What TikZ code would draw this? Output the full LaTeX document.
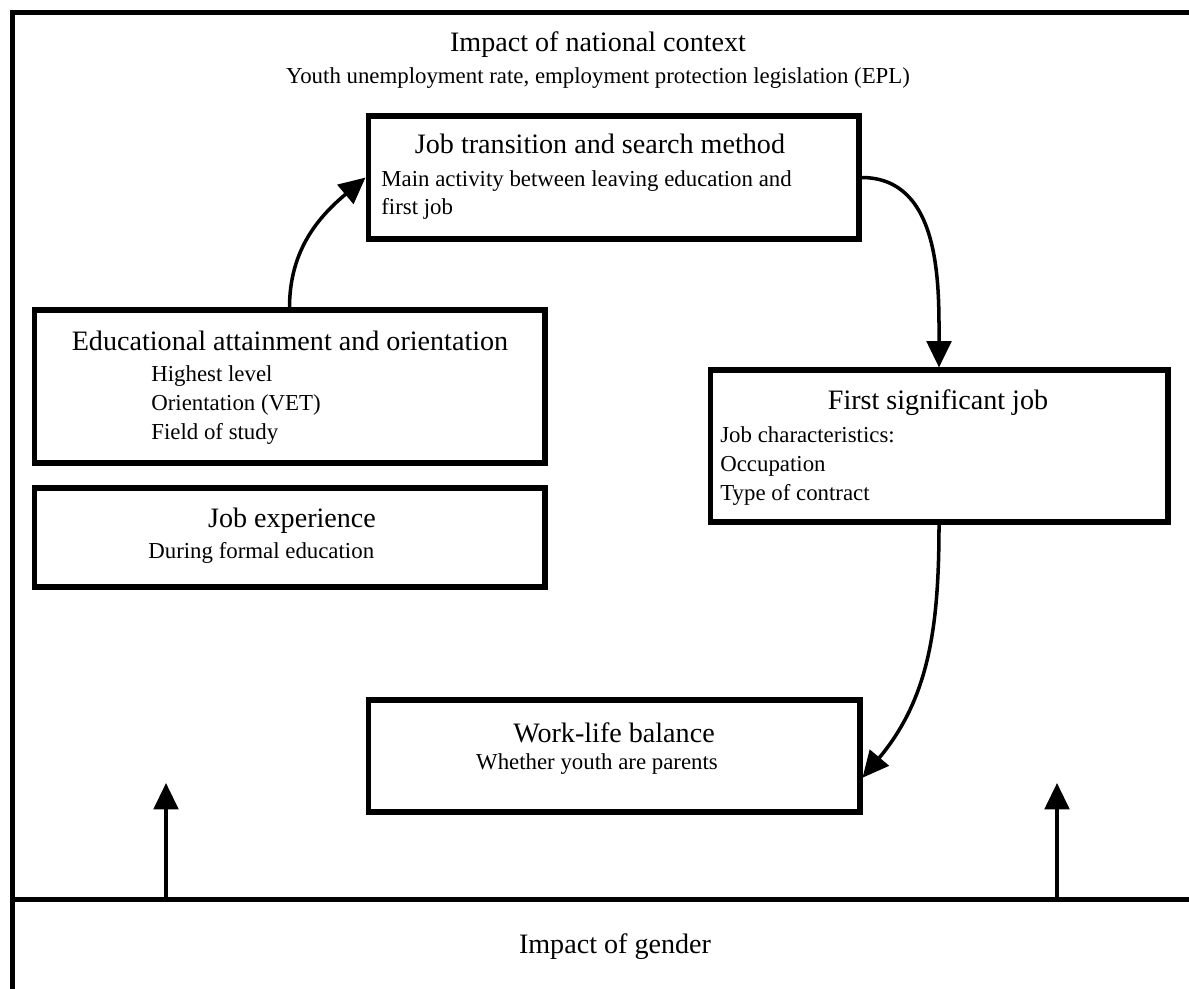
\documentclass[tikz,border=0pt]{standalone}
\usepackage{fontspec}
\setmainfont{Liberation Serif}
\usetikzlibrary{arrows.meta, positioning}

\begin{document}
\begin{tikzpicture}[x=0.02cm, y=-0.02cm,
	frame/.style={draw, line width=2.9pt},
	stagebox/.style={draw, line width=2.9pt, inner sep=0pt},
	headtext/.style={font=\fontsize{16}{19}\selectfont, inner sep=0pt},
	subtext/.style={font=\fontsize{13}{16.5}\selectfont, inner sep=0pt, align=left},
	arr/.style={-{Triangle[length=15pt, width=14pt]}, line width=2pt}
	]
	\useasboundingbox (0, 0) rectangle (1189, 988);
	\draw[frame] (12.5, 12.5) rectangle (1220, 899.5);
	\node[frame, minimum width=24.1cm, minimum height=1.9cm,
		font=\fontsize{16}{19}\selectfont] (gender) at (615, 947) {Impact of gender};
	
	\node[headtext] (ctxhead) at (598, 45) {Impact of national context};
	\node[subtext] (ctxsub) at (598, 78)
	{Youth unemployment rate, employment protection legislation (EPL)};
	
	\node[stagebox, minimum width=9.82cm, minimum height=2.46cm] (trans) at (613.5, 177.5) {};
	\node[stagebox, minimum width=10.22cm, minimum height=3.06cm] (edu) at (289.5, 386.5) {};
	\node[stagebox, minimum width=10.22cm, minimum height=1.98cm] (exp) at (289.5, 537.5) {};
	\node[stagebox, minimum width=9.16cm, minimum height=3.04cm] (first) at (939, 446) {};
	\node[stagebox, minimum width=9.84cm, minimum height=2.24cm] (work) at (614, 756) {};
	
	\node[headtext] (transhead) at (600, 144) {Job transition and search method};
	\node[subtext, anchor=west] (transsub) at (381, 195)
	{Main activity between leaving education and\\first job};
	\node[headtext] (eduhead) at (290, 341) {Educational attainment and orientation};
	\node[subtext, anchor=west] (edusub) at (151, 405)
	{Highest level\\Orientation (VET)\\Field of study};
	\node[headtext] (exphead) at (292, 521) {Job experience};
	\node[subtext, anchor=west] (expsub) at (148, 553) {During formal education};
	\node[headtext] (firsthead) at (938, 403) {First significant job};
	\node[subtext, anchor=west] (firstsub) at (720, 466)
	{Job characteristics:\\Occupation\\Type of contract};
	\node[headtext] (workhead) at (614, 733) {Work-life balance};
	\node[subtext] (worksub) at (597, 764) {Whether youth are parents};
	
	\draw[arr] (edu.north) to[out=90, in=220] (trans.west);
	\draw[arr] (trans.east) to[out=0, in=90] (first.north);
	\draw[arr] (first.south) to[out=-90, in=50] (work.-5);
	
	\coordinate (gtipl) at (166, 783);
	\coordinate (gtipr) at (1057, 783);
	\draw[arr] (gender.north -| gtipl) -- (gtipl);
	\draw[arr] (gender.north -| gtipr) -- (gtipr);
\end{tikzpicture}
\end{document}
